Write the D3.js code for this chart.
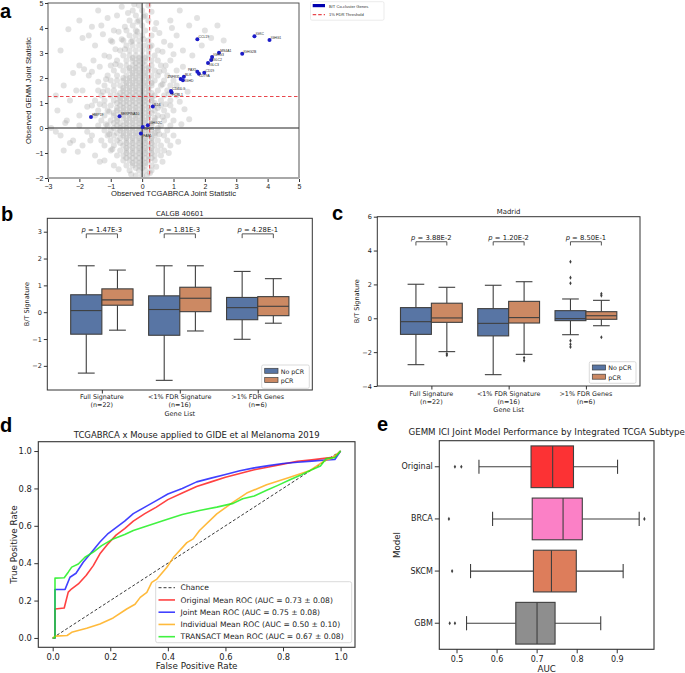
<!DOCTYPE html>
<html><head><meta charset="utf-8">
<script src="https://cdn.jsdelivr.net/npm/d3@7"></script>
<style>body{margin:0;background:#fff}svg{display:block}</style>
</head><body>
<svg id="chart" width="685" height="673"></svg>
<script>
// ================= DATA =================
// ---- Panel a: joint statistics ----
const geneNames = ["CCL19","IGKC","IGHG1","IGHG2B","MS4A1","IGHG3","IGLC2","IGLC3","CD19","PAX5","CD79A","BLK","ZNF831","IGHD","CD40LG","FCRL1","IL16","HMP19","SERPINA10","IGHG2C","IGHV1","FAB1"];
const geneTcga = [1.76,3.58,4.06,3.19,2.45,2.23,2.20,2.10,1.98,1.76,1.81,1.33,1.23,1.30,0.92,0.94,0.34,-1.63,-0.72,0.18,0.02,-0.04];
const geneGemm = [3.55,3.67,3.52,2.97,3.01,2.84,2.72,2.60,2.21,2.25,2.17,2.05,1.96,1.91,1.48,1.42,0.86,0.44,0.47,0.11,0.04,-0.22];
const fdrTcga = 0.24, fdrGemm = 1.26;
const aTicksX = [-3,-2,-1,0,1,2,3,4,5];
const aTicksY = [-2,-1,0,1,2,3,4,5];
const backgroundGenes = [
[-0.2,-1.9],[0,-1.9],[0.15,-1.9],
[-0.4,-1.7],[-0.1,-1.7],[0.1,-1.7],[0.3,-1.7],
[-0.9,-1.5],[-0.5,-1.5],[-0.3,-1.5],[-0.1,-1.5],[0.1,-1.5],[0.3,-1.5],
[-1.2,-1.3],[-0.6,-1.3],[-0.4,-1.3],[-0.2,-1.3],[0,-1.3],[0.2,-1.3],[0.4,-1.3],
[-1.5,-1.1],[-0.8,-1.1],[-0.6,-1.1],[-0.4,-1.1],[-0.2,-1.1],[0,-1.1],[0.2,-1.1],[0.4,-1.1],[0.6,-1.1],
[-2.5,-0.9],[-1,-0.9],[-0.7,-0.9],[-0.5,-0.9],[-0.3,-0.9],[-0.1,-0.9],[0.1,-0.9],[0.3,-0.9],[0.5,-0.9],[0.7,-0.9],
[-1.9,-0.7],[-1.2,-0.7],[-0.9,-0.7],[-0.6,-0.7],[-0.4,-0.7],[-0.2,-0.7],[0,-0.7],[0.2,-0.7],[0.4,-0.7],[0.6,-0.7],[0.9,-0.7],
[-2.2,-0.5],[-1.3,-0.5],[-1,-0.5],[-0.8,-0.5],[-0.5,-0.5],[-0.3,-0.5],[-0.1,-0.5],[0.1,-0.5],[0.3,-0.5],[0.5,-0.5],[0.8,-0.5],
[-2.6,-0.3],[-1.6,-0.3],[-1.1,-0.3],[-0.9,-0.3],[-0.6,-0.3],[-0.4,-0.3],[-0.2,-0.3],[0,-0.3],[0.2,-0.3],[0.4,-0.3],[0.7,-0.3],[1,-0.3],
[-1.2,-0.1],[-1,-0.1],[-0.7,-0.1],[-0.5,-0.1],[-0.3,-0.1],[-0.1,-0.1],[0.1,-0.1],[0.3,-0.1],[0.5,-0.1],[0.8,-0.1],
[-2,0.1],[-1.4,0.1],[-1.1,0.1],[-0.8,0.1],[-0.6,0.1],[-0.4,0.1],[-0.2,0.1],[0,0.1],[0.3,0.1],[0.6,0.1],[0.9,0.1],
[-2.4,0.3],[-1.3,0.3],[-1,0.3],[-0.8,0.3],[-0.5,0.3],[-0.3,0.3],[-0.1,0.3],[0.1,0.3],[0.4,0.3],[0.7,0.3],[1,0.3],
[-2,0.5],[-1.5,0.5],[-1.2,0.5],[-0.9,0.5],[-0.6,0.5],[-0.4,0.5],[-0.2,0.5],[0,0.5],[0.2,0.5],[0.5,0.5],[0.8,0.5],
[-2.7,0.7],[-1.4,0.7],[-1.1,0.7],[-0.8,0.7],[-0.6,0.7],[-0.4,0.7],[-0.2,0.7],[0,0.7],[0.2,0.7],[0.4,0.7],[0.7,0.7],[1,0.7],
[-1.6,0.9],[-1.2,0.9],[-1,0.9],[-0.7,0.9],[-0.5,0.9],[-0.3,0.9],[-0.1,0.9],[0.1,0.9],[0.4,0.9],[0.6,0.9],[0.9,0.9],
[-2.3,1.1],[-1.5,1.1],[-1.2,1.1],[-0.9,1.1],[-0.7,1.1],[-0.5,1.1],[-0.3,1.1],[-0.1,1.1],[0.1,1.1],[0.3,1.1],[0.6,1.1],[0.9,1.1],
[-1.3,1.3],[-1,1.3],[-0.8,1.3],[-0.6,1.3],[-0.4,1.3],[-0.2,1.3],[0,1.3],[0.2,1.3],[0.4,1.3],[0.7,1.3],[1.1,1.3],
[-1.9,1.5],[-1.4,1.5],[-1.1,1.5],[-0.9,1.5],[-0.6,1.5],[-0.4,1.5],[-0.2,1.5],[0,1.5],[0.2,1.5],[0.5,1.5],[0.8,1.5],
[-2.5,1.7],[-1.2,1.7],[-0.9,1.7],[-0.7,1.7],[-0.5,1.7],[-0.3,1.7],[-0.1,1.7],[0.1,1.7],[0.3,1.7],[0.6,1.7],[0.9,1.7],
[-1,1.9],[-0.8,1.9],[-0.6,1.9],[-0.4,1.9],[-0.2,1.9],[0,1.9],[0.2,1.9],[0.4,1.9],[0.7,1.9],[1,1.9],
[-1.7,2.1],[-1.1,2.1],[-0.8,2.1],[-0.5,2.1],[-0.3,2.1],[-0.1,2.1],[0.1,2.1],[0.3,2.1],[0.5,2.1],[0.8,2.1],
[-0.9,2.3],[-0.6,2.3],[-0.4,2.3],[-0.2,2.3],[0,2.3],[0.2,2.3],[0.4,2.3],[0.7,2.3],[1.1,2.3],
[-2,2.5],[-1,2.5],[-0.7,2.5],[-0.5,2.5],[-0.3,2.5],[-0.1,2.5],[0.1,2.5],[0.3,2.5],[0.6,2.5],
[-0.8,2.7],[-0.5,2.7],[-0.3,2.7],[-0.1,2.7],[0.1,2.7],[0.3,2.7],[0.5,2.7],[0.9,2.7],
[-1.2,2.9],[-0.6,2.9],[-0.4,2.9],[-0.2,2.9],[0,2.9],[0.2,2.9],[0.4,2.9],
[-2.6,3.1],[-0.7,3.1],[-0.4,3.1],[-0.2,3.1],[0,3.1],[0.2,3.1],[0.5,3.1],[1.3,3.1],
[-1.5,3.3],[-0.5,3.3],[-0.3,3.3],[-0.1,3.3],[0.1,3.3],[0.3,3.3],[0.9,3.3],
[-1,3.5],[-0.6,3.5],[-0.3,3.5],[-0.1,3.5],[0.2,3.5],[2.6,3.5],
[-1.7,3.7],[-0.4,3.7],[-0.2,3.7],[0,3.7],[0.3,3.7],[1.1,3.7],
[-0.9,3.9],[-0.5,3.9],[-0.2,3.9],[0.1,3.9],[2,3.9],
[-1.3,4.1],[-0.3,4.1],[0,4.1],[1.5,4.1],[2.4,4.1],
[-2,4.3],[-0.4,4.3],[-0.1,4.3],[0.2,4.3],[0.9,4.3],
[-0.8,4.5],[-0.2,4.5],[0.1,4.5],
[-1.4,4.7],[-0.3,4.7],[0,4.7],[1.2,4.7],
[-0.1,4.9],[0.2,4.9],
[-0.2,-1.6],[0,-1.6],
[-0.3,-1.4],[-0.1,-1.4],[0.1,-1.4],
[-0.5,-1.2],[-0.3,-1.2],[-0.1,-1.2],[0.1,-1.2],[0.3,-1.2],
[-0.5,-1],[-0.3,-1],[-0.1,-1],[0.1,-1],[0.3,-1],
[-0.5,-0.8],[-0.3,-0.8],[-0.1,-0.8],[0.1,-0.8],[0.3,-0.8],
[-0.7,-0.6],[-0.5,-0.6],[-0.3,-0.6],[-0.1,-0.6],[0.1,-0.6],[0.3,-0.6],
[-0.7,-0.4],[-0.5,-0.4],[-0.3,-0.4],[-0.1,-0.4],[0.1,-0.4],[0.3,-0.4],
[-0.8,-0.2],[-0.6,-0.2],[-0.4,-0.2],[-0.2,-0.2],[0,-0.2],[0.2,-0.2],[0.4,-0.2],
[-0.9,0],[-0.7,0],[-0.5,0],[-0.3,0],[-0.1,0],[0.1,0],[0.5,0],
[-0.9,0.2],[-0.7,0.2],[-0.5,0.2],[-0.3,0.2],[-0.1,0.2],[0.1,0.2],[0.3,0.2],
[-0.8,0.4],[-0.6,0.4],[-0.4,0.4],[-0.2,0.4],[0,0.4],[0.2,0.4],[0.4,0.4],
[-0.9,0.6],[-0.7,0.6],[-0.5,0.6],[-0.3,0.6],[-0.1,0.6],[0.1,0.6],[0.3,0.6],
[-0.8,0.8],[-0.6,0.8],[-0.4,0.8],[-0.2,0.8],[0,0.8],[0.2,0.8],[0.5,0.8],
[-0.8,1],[-0.6,1],[-0.4,1],[-0.2,1],[0,1],[0.2,1],[0.4,1],
[-0.7,1.2],[-0.5,1.2],[-0.3,1.2],[-0.1,1.2],[0.1,1.2],[0.3,1.2],
[-0.7,1.4],[-0.5,1.4],[-0.3,1.4],[-0.1,1.4],[0.1,1.4],[0.3,1.4],
[-0.6,1.6],[-0.4,1.6],[-0.2,1.6],[0,1.6],[0.2,1.6],
[-0.5,1.8],[-0.3,1.8],[-0.1,1.8],[0.1,1.8],[0.3,1.8],
[-0.6,2],[-0.4,2],[-0.2,2],[0,2],[0.2,2],
[-0.3,2.2],[-0.1,2.2],[0.1,2.2],
[-0.4,2.4],[-0.2,2.4],[0,2.4],[0.2,2.4],
[-0.2,2.6],[0,2.6],
[-0.3,2.8],[-0.1,2.8],[0.1,2.8],
[-0.75,3.85],[-0.55,4.05],[-0.15,4.25],[0.05,4.45],[-0.45,4.6],[-0.65,4.85],[0.3,4.65],[-0.25,4.95],[0.45,4.2],[-1.1,4.4],
[-0.95,3.45],[-1.25,3.75],[0.55,3.8],[0.7,3.45],[0.4,3.95],[-0.85,3.15],[-1.05,2.85],[0.65,3.05],[0.75,2.5],[-1.35,2.45],
[-1.55,2.7],[1.0,2.95],[-1.9,3.6],[-2.2,2.2],[-2.75,1.3],[-2.45,0.2],[-1.75,-0.15],[-2.05,-0.95],[-1.35,-1.35],[-0.75,-1.65],
[0.45,-1.55],[0.65,-1.35],[0.85,-1.0],[1.15,-0.55],[1.25,0.15],[1.35,0.75],[1.2,1.05],[1.45,1.45],[1.1,1.7],[1.3,2.45],
[1.6,2.9],[1.9,3.3],[2.2,3.6],[1.75,4.4],[0.95,4.0],[-1.6,4.05],[-2.35,3.95],[-1.85,2.35],[-2.1,1.5],[-1.75,0.85],
[-2.9,0.0],[-1.65,-0.5],[-2.3,-0.6],[-2.75,-0.15],[-1.4,1.85],[-1.6,2.25],[1.5,0.35],[-0.35,-1.85],[0.25,-1.8],
[-0.65,3.55],[-0.35,3.45],[0.05,3.55],[-0.15,3.85],[0.25,3.25],[-0.55,3.15],[-0.85,2.55],[-1.15,1.95],[-1.25,1.45],[-1.35,0.95],
[-1.05,0.65],[-1.15,0.15],[-1.05,-0.25],[-0.95,-0.85],[0.55,-0.25],[0.65,0.45],[0.75,0.95],[0.85,1.35],[0.65,1.75],[0.55,2.25]
];

// ---- Panels b & c: B/T signature by response ----
const geneLists = ["Full Signature","<1% FDR Signature",">1% FDR Genes"];
const geneListN = ["(n=22)","(n=16)","(n=6)"];
const responseGroups = ["No pCR","pCR"];
// [lower whisker, Q1, median, Q3, upper whisker]
const calgbNoPCR = [[-2.27,-0.82,0.06,0.65,1.73],[-2.54,-0.86,0.10,0.61,1.73],[-1.01,-0.28,0.17,0.55,1.52]];
const calgbPCR   = [[-0.67,0.26,0.46,0.87,1.57],[-0.70,0.02,0.52,0.93,1.73],[-0.41,-0.13,0.22,0.58,1.25]];
const calgbP = ["1.47E-3","1.81E-3","4.28E-1"];
const madridNoPCR = [[-2.74,-0.95,-0.20,0.63,2.01],[-3.33,-1.04,-0.30,0.57,1.95],[-0.97,-0.14,-0.02,0.45,1.14]];
const madridPCR   = [[-1.97,-0.24,0.02,0.89,1.83],[-2.13,-0.28,0.04,1.00,2.16],[-0.44,-0.06,0.15,0.39,1.06]];
const madridNoPCRFliers = [[],[],[3.34,2.40,2.07,-1.32,-1.54,-1.69]];
const madridPCRFliers   = [[-2.10,-2.18],[-2.33,-2.50],[1.45,1.34,-1.12]];
const madridP = ["3.88E-2","1.20E-2","8.50E-1"];

// ---- Panel d: ROC curves [FPR, TPR] ----
const rocChance = [[0,0],[1,1]];
const rocOriginal = [[0,0],[0.008,0],[0.008,0.155],[0.04,0.16],[0.054,0.245],[0.066,0.263],[0.089,0.289],[0.116,0.334],[0.141,0.387],[0.164,0.45],[0.19,0.50],[0.22,0.55],[0.25,0.585],[0.28,0.625],[0.32,0.665],[0.36,0.70],[0.40,0.74],[0.45,0.775],[0.50,0.81],[0.55,0.835],[0.60,0.86],[0.65,0.88],[0.70,0.90],[0.75,0.915],[0.80,0.93],[0.85,0.945],[0.90,0.953],[0.95,0.962],[0.98,0.968],[1.0,1.0]];
const rocJoint = [[0,0],[0.008,0],[0.008,0.259],[0.043,0.26],[0.06,0.325],[0.081,0.346],[0.106,0.405],[0.135,0.459],[0.164,0.513],[0.19,0.555],[0.22,0.59],[0.25,0.625],[0.28,0.665],[0.32,0.70],[0.36,0.735],[0.40,0.77],[0.45,0.80],[0.50,0.835],[0.55,0.855],[0.60,0.875],[0.65,0.895],[0.70,0.91],[0.75,0.922],[0.80,0.933],[0.85,0.94],[0.90,0.946],[0.95,0.952],[0.98,0.955],[1.0,1.0]];
const rocIndividual = [[0,0],[0.01,0.01],[0.05,0.013],[0.066,0.03],[0.118,0.052],[0.164,0.075],[0.21,0.107],[0.257,0.155],[0.286,0.18],[0.304,0.217],[0.327,0.244],[0.344,0.297],[0.362,0.315],[0.396,0.377],[0.419,0.43],[0.466,0.51],[0.488,0.53],[0.51,0.575],[0.57,0.664],[0.627,0.727],[0.674,0.775],[0.743,0.82],[0.824,0.86],[0.894,0.896],[0.946,0.95],[0.97,0.962],[1.0,1.0]];
const rocTransact = [[0,0],[0.008,0],[0.008,0.32],[0.04,0.322],[0.054,0.352],[0.066,0.379],[0.089,0.396],[0.112,0.432],[0.141,0.459],[0.17,0.494],[0.21,0.53],[0.25,0.553],[0.28,0.575],[0.33,0.60],[0.396,0.634],[0.45,0.66],[0.51,0.682],[0.57,0.70],[0.627,0.72],[0.66,0.745],[0.70,0.76],[0.743,0.79],[0.78,0.815],[0.824,0.846],[0.86,0.87],[0.894,0.896],[0.93,0.92],[0.95,0.96],[0.98,0.965],[1.0,1.0]];
const rocLabels = ["Chance","Original Mean ROC (AUC = 0.73 \u00b1 0.08)","Joint Mean ROC (AUC = 0.75 \u00b1 0.08)","Individual Mean ROC (AUC = 0.50 \u00b1 0.10)","TRANSACT Mean ROC (AUC = 0.67 \u00b1 0.08)"];
const dTicks = [0,0.2,0.4,0.6,0.8,1.0];

// ---- Panel e: AUC by subtype ----
const subtypes = ["Original","BRCA","SKCM","GBM"];
const subtypeStats = [[0.556,0.686,0.740,0.792,0.902],[0.590,0.689,0.766,0.814,0.956],[0.535,0.692,0.737,0.799,0.916],[0.525,0.648,0.701,0.746,0.860]];
const subtypeFliers = [[0.496,0.512],[0.481,0.969],[0.489],[0.483,0.496]];
const eTicks = [0.5,0.6,0.7,0.8,0.9];

// ================= DRAWING =================
const svg = d3.select("#chart");
const DV = "DejaVu Sans, sans-serif";
const LS = "Liberation Sans, Arial, sans-serif";
const EDGE = "#3f3f3f";
const intFmt = d3.format("d");

function panelLabel(t, x, y) {
  svg.append("text").attr("x", x).attr("y", y).attr("font-family", LS)
    .attr("font-weight", "bold").attr("font-size", 20).attr("fill", "#000").text(t);
}
function styleAxis(g, font, size, color) {
  g.select(".domain").remove();
  g.selectAll(".tick line").attr("stroke", color);
  g.selectAll(".tick text").attr("font-family", font).attr("font-size", size).attr("fill", "#222");
}

// ---------- Panel a ----------
(function(){
  const L = 48, R = 299, T = 3, B = 178;
  const x = d3.scaleLinear().domain([-3,5]).range([L,R]);
  const y = d3.scaleLinear().domain([-2,5]).range([B,T]);
  const g = svg.append("g");
  const clip = svg.append("clipPath").attr("id","clipA");
  clip.append("rect").attr("x",L).attr("y",T).attr("width",R-L).attr("height",B-T);
  const pts = g.append("g").attr("clip-path","url(#clipA)");
  pts.selectAll("circle.bg").data(backgroundGenes).join("circle").attr("class","bg")
    .attr("cx", d=>x(d[0])).attr("cy", d=>y(d[1])).attr("r", 3)
    .attr("fill", "#a8a8a8").attr("fill-opacity", 0.33);
  // zero lines
  g.append("line").attr("x1",x(0)).attr("x2",x(0)).attr("y1",T).attr("y2",B).attr("stroke","#222").attr("stroke-width",1);
  g.append("line").attr("x1",L).attr("x2",R).attr("y1",y(0)).attr("y2",y(0)).attr("stroke","#222").attr("stroke-width",1);
  // FDR thresholds
  g.append("line").attr("x1",x(fdrTcga)).attr("x2",x(fdrTcga)).attr("y1",T).attr("y2",B)
    .attr("stroke","#e8474d").attr("stroke-width",1).attr("stroke-dasharray","3.5,2.5");
  g.append("line").attr("x1",L).attr("x2",R).attr("y1",y(fdrGemm)).attr("y2",y(fdrGemm))
    .attr("stroke","#e8474d").attr("stroke-width",1).attr("stroke-dasharray","3.5,2.5");
  // genes
  const genes = geneNames.map((n,i)=>({n, x:geneTcga[i], y:geneGemm[i]}));
  g.selectAll("circle.gene").data(genes).join("circle").attr("class","gene")
    .attr("cx", d=>x(d.x)).attr("cy", d=>y(d.y)).attr("r", 2).attr("fill", "#1c1cc8");
  const labelOffset = {PAX5:[-1,-0.5,"end"], ZNF831:[-1,-1,"end"], IGLC2:[1,1.2], IGLC3:[1,3], CD79A:[0,3.6], IGHD:[2,2.2], FCRL1:[0.5,3.6], IGHV1:[1,3], FAB1:[2.5,3]};
  g.selectAll("text.gene").data(genes).join("text").attr("class","gene")
    .attr("x", d=>x(d.x) + (labelOffset[d.n] ? labelOffset[d.n][0] : 1.2))
    .attr("y", d=>y(d.y) + (labelOffset[d.n] ? labelOffset[d.n][1] : -1))
    .attr("text-anchor", d=> labelOffset[d.n] && labelOffset[d.n][2] ? "end" : "start")
    .attr("font-family", LS).attr("font-size", 3.4).attr("fill", "#222").text(d=>d.n);
  // frame
  g.append("rect").attr("x",L).attr("y",T).attr("width",R-L).attr("height",B-T).attr("fill","none").attr("stroke","#444").attr("stroke-width",0.9);
  g.append("line").attr("x1",L).attr("x2",R).attr("y1",B).attr("y2",B).attr("stroke","#a8a8a8").attr("stroke-width",2);
  const xa = g.append("g").attr("transform",`translate(0,${B+1})`).call(d3.axisBottom(x).tickValues(aTicksX).tickSize(3).tickPadding(2).tickFormat(intFmt));
  styleAxis(xa, LS, 7, "#333");
  const ya = g.append("g").attr("transform",`translate(${L},0)`).call(d3.axisLeft(y).tickValues(aTicksY).tickSize(3).tickPadding(1.5).tickFormat(intFmt));
  styleAxis(ya, LS, 7, "#333");
  g.append("text").attr("x",(L+R)/2).attr("y",196).attr("text-anchor","middle").attr("font-family",LS).attr("font-size",7.7).attr("fill","#222").text("Observed TCGABRCA Joint Statistic");
  g.append("text").attr("transform",`translate(31,${(T+B)/2}) rotate(-90)`).attr("text-anchor","middle").attr("font-family",LS).attr("font-size",7.7).attr("fill","#222").text("Observed GEMM Joint Statistic");
  // legend
  const lg = g.append("g");
  lg.append("rect").attr("x",310.5).attr("y",1.7).attr("width",73.5).attr("height",18.5).attr("rx",1.5).attr("fill","#fff").attr("stroke","#ddd").attr("stroke-width",0.6);
  lg.append("rect").attr("x",312.7).attr("y",4).attr("width",12.3).attr("height",3.2).attr("fill","#0000b0");
  lg.append("line").attr("x1",312.7).attr("x2",325).attr("y1",14.6).attr("y2",14.6).attr("stroke","#e8474d").attr("stroke-width",1.2).attr("stroke-dasharray","3.5,2");
  lg.append("text").attr("x",329).attr("y",7.6).attr("font-family",LS).attr("font-size",4.1).attr("fill","#333").text("B/T Co-cluster Genes");
  lg.append("text").attr("x",329).attr("y",16.2).attr("font-family",LS).attr("font-size",4.1).attr("fill","#333").text("1% FDR Threshold");
})();
panelLabel("a", 0, 17.5);

// ---------- Panels b & c ----------
function boxPanel(cfg) {
  const {L,R,T,B,ydom,yticks,title,titleY,noStats,pStats,noFliers,pFliers,pvals,brTop,brLeg,line1,line2,geneY,legendBox} = cfg;
  const x = d3.scaleLinear().domain([-0.7,2.7]).range([L,R]);
  const y = d3.scaleLinear().domain(ydom).range([B,T]);
  const g = svg.append("g");
  const bw = x(0.4) - x(0);
  const cap = bw*0.27;
  function drawBoxes(stats, fliers, off, fill) {
    stats.forEach((s,i)=>{
      const cx = x(i+off);
      const [lo,q1,md,q3,hi] = s;
      g.append("line").attr("x1",cx).attr("x2",cx).attr("y1",y(q3)).attr("y2",y(hi)).attr("stroke",EDGE).attr("stroke-width",1.1);
      g.append("line").attr("x1",cx).attr("x2",cx).attr("y1",y(q1)).attr("y2",y(lo)).attr("stroke",EDGE).attr("stroke-width",1.1);
      g.append("line").attr("x1",cx-cap).attr("x2",cx+cap).attr("y1",y(hi)).attr("y2",y(hi)).attr("stroke",EDGE).attr("stroke-width",1.1);
      g.append("line").attr("x1",cx-cap).attr("x2",cx+cap).attr("y1",y(lo)).attr("y2",y(lo)).attr("stroke",EDGE).attr("stroke-width",1.1);
      g.append("rect").attr("x",cx-bw/2).attr("y",y(q3)).attr("width",bw).attr("height",y(q1)-y(q3)).attr("fill",fill).attr("stroke",EDGE).attr("stroke-width",1.1);
      g.append("line").attr("x1",cx-bw/2).attr("x2",cx+bw/2).attr("y1",y(md)).attr("y2",y(md)).attr("stroke",EDGE).attr("stroke-width",1.1);
      if (fliers) (fliers[i]||[]).forEach(v=>{
        g.append("path").attr("d", d3.symbol(d3.symbolDiamond, 5)()).attr("transform",`translate(${cx},${y(v)})`).attr("fill",EDGE);
      });
    });
  }
  drawBoxes(noStats, noFliers, -0.2, "#5875a4");
  drawBoxes(pStats, pFliers, 0.2, "#cc8963");
  pvals.forEach((p,i)=>{
    const x1 = x(i-0.2), x2 = x(i+0.2);
    g.append("path").attr("d",`M${x1},${y(brLeg)}V${y(brTop)}H${x2}V${y(brLeg)}`).attr("fill","none").attr("stroke","#555").attr("stroke-width",1);
    const t = g.append("text").attr("x",(x1+x2)/2).attr("y",y(brTop)-2.2).attr("text-anchor","middle").attr("font-family",DV).attr("font-size",6.8).attr("fill","#222");
    t.append("tspan").attr("font-style","italic").text("p");
    t.append("tspan").text(" = " + p);
  });
  g.append("rect").attr("x",L).attr("y",T).attr("width",R-L).attr("height",B-T).attr("fill","none").attr("stroke","#333").attr("stroke-width",1);
  const ya = g.append("g").attr("transform",`translate(${L},0)`).call(d3.axisLeft(y).tickValues(yticks).tickSize(3.5).tickPadding(2).tickFormat(intFmt));
  styleAxis(ya, DV, 6.5, "#333");
  const xa = g.append("g").attr("transform",`translate(0,${B})`).call(d3.axisBottom(x).tickValues([0,1,2]).tickSize(3.5).tickFormat(""));
  styleAxis(xa, DV, 6.5, "#333");
  geneLists.forEach((n,i)=>{
    g.append("text").attr("x",x(i)).attr("y",line1).attr("text-anchor","middle").attr("font-family",DV).attr("font-size",6.4).attr("fill","#222").text(n);
    g.append("text").attr("x",x(i)).attr("y",line2).attr("text-anchor","middle").attr("font-family",DV).attr("font-size",6.4).attr("fill","#222").text(geneListN[i]);
  });
  g.append("text").attr("x",(L+R)/2).attr("y",geneY).attr("text-anchor","middle").attr("font-family",DV).attr("font-size",6.5).attr("fill","#222").text("Gene List");
  g.append("text").attr("x",(L+R)/2).attr("y",titleY).attr("text-anchor","middle").attr("font-family",DV).attr("font-size",6.9).attr("fill","#222").text(title);
  g.append("text").attr("transform",`translate(${L-18.5},${(T+B)/2}) rotate(-90)`).attr("text-anchor","middle").attr("font-family",DV).attr("font-size",6.5).attr("fill","#222").text("B/T Signature");
  const [lx,ly,lw,lh] = legendBox;
  g.append("rect").attr("x",lx).attr("y",ly).attr("width",lw).attr("height",lh).attr("rx",1.5).attr("fill","#fff").attr("fill-opacity",0.85).attr("stroke","#ccc").attr("stroke-width",0.7);
  [["#5875a4",0],["#cc8963",1]].forEach(([c,k])=>{
    g.append("rect").attr("x",lx+3).attr("y",ly+3.3+k*9.2).attr("width",13.3).attr("height",5).attr("fill",c).attr("stroke",EDGE).attr("stroke-width",0.7);
    g.append("text").attr("x",lx+19).attr("y",ly+8.6+k*9.2).attr("font-family",DV).attr("font-size",6.3).attr("fill","#222").text(responseGroups[k]);
  });
}
boxPanel({L:47.3,R:312.3,T:218.3,B:390,ydom:[-2.9,3.5],yticks:[-2,-1,0,1,2,3],title:"CALGB 40601",titleY:216,
  noStats:calgbNoPCR,pStats:calgbPCR,noFliers:null,pFliers:null,pvals:calgbP,brTop:2.92,brLeg:2.76,
  line1:398.5,line2:406.5,geneY:416,legendBox:[261.7,365,47.6,23.3]});
boxPanel({L:377.3,R:640,T:216.7,B:386,ydom:[-4,6],yticks:[-4,-2,0,2,4,6],title:"Madrid",titleY:214,
  noStats:madridNoPCR,pStats:madridPCR,noFliers:madridNoPCRFliers,pFliers:madridPCRFliers,pvals:madridP,brTop:4.52,brLeg:4.3,
  line1:396,line2:403.5,geneY:412,legendBox:[589.3,361.7,46.7,21.6]});
panelLabel("b", 1, 221);
panelLabel("c", 332, 219.5);

// ---------- Panel d ----------
(function(){
  const L = 38.3, R = 355, T = 441.7, B = 647.3;
  const x = d3.scaleLinear().domain([-0.05,1.05]).range([L,R]);
  const y = d3.scaleLinear().domain([-0.05,1.05]).range([B,T]);
  const g = svg.append("g");
  const line = d3.line().x(d=>x(d[0])).y(d=>y(d[1]));
  g.append("path").attr("d",line(rocChance)).attr("fill","none").attr("stroke","#222").attr("stroke-width",0.9).attr("stroke-dasharray","3,2");
  const series = [[rocOriginal,"#ff2020"],[rocJoint,"#2020ff"],[rocIndividual,"#ffae1a"],[rocTransact,"#20f020"]];
  series.forEach(([s,c])=>{
    g.append("path").attr("d",line(s)).attr("fill","none").attr("stroke",c).attr("stroke-opacity",0.85).attr("stroke-width",1.6).attr("stroke-linejoin","round");
  });
  g.append("rect").attr("x",L).attr("y",T).attr("width",R-L).attr("height",B-T).attr("fill","none").attr("stroke","#333").attr("stroke-width",1.1);
  const xa = g.append("g").attr("transform",`translate(0,${B})`).call(d3.axisBottom(x).tickValues(dTicks).tickSize(4).tickPadding(3).tickFormat(d3.format(".1f")));
  styleAxis(xa, DV, 8.3, "#333");
  const ya = g.append("g").attr("transform",`translate(${L},0)`).call(d3.axisLeft(y).tickValues(dTicks).tickSize(4).tickPadding(2.5).tickFormat(d3.format(".1f")));
  styleAxis(ya, DV, 8.3, "#333");
  g.append("text").attr("x",(L+R)/2).attr("y",437.5).attr("text-anchor","middle").attr("font-family",DV).attr("font-size",8.5).attr("fill","#222").text("TCGABRCA x Mouse applied to GIDE et al Melanoma 2019");
  g.append("text").attr("x",(L+R)/2).attr("y",669).attr("text-anchor","middle").attr("font-family",DV).attr("font-size",8.8).attr("fill","#222").text("False Positive Rate");
  g.append("text").attr("transform",`translate(16.5,${(T+B)/2}) rotate(-90)`).attr("text-anchor","middle").attr("font-family",DV).attr("font-size",8.8).attr("fill","#222").text("True Positive Rate");
  g.append("rect").attr("x",155.7).attr("y",581.7).attr("width",196).attr("height",61).attr("rx",2).attr("fill","#fff").attr("fill-opacity",0.85).attr("stroke","#d0d0d0").attr("stroke-width",0.8);
  const lcols = ["#222","#ff2020","#2020ff","#ffae1a","#20f020"];
  rocLabels.forEach((t,i)=>{
    const yy = 587.7 + i*12.25;
    const ln = g.append("line").attr("x1",158.5).attr("x2",175).attr("y1",yy).attr("y2",yy).attr("stroke",lcols[i]);
    if (i===0) ln.attr("stroke-width",0.9).attr("stroke-dasharray","3,2");
    else ln.attr("stroke-width",1.6).attr("stroke-opacity",0.85);
    g.append("text").attr("x",180.5).attr("y",yy+2.7).attr("font-family",DV).attr("font-size",7.6).attr("fill","#222").text(t);
  });
})();
panelLabel("d", 0, 431.5);

// ---------- Panel e ----------
(function(){
  const L = 439.3, R = 654, T = 440.7, B = 649.3;
  const x = d3.scaleLinear().domain([0.457,0.993]).range([L,R]);
  const y = d3.scaleBand().domain(subtypes).range([T,B]).padding(0);
  const g = svg.append("g");
  const colors = ["#fc3234","#fb80c6","#dd7d5b","#8e8e8e"];
  const bh = y.bandwidth()*0.8, cap = bh*0.17;
  subtypes.forEach((s,i)=>{
    const cy = y(s) + y.bandwidth()/2;
    const [lo,q1,md,q3,hi] = subtypeStats[i];
    g.append("line").attr("x1",x(lo)).attr("x2",x(q1)).attr("y1",cy).attr("y2",cy).attr("stroke",EDGE).attr("stroke-width",1.1);
    g.append("line").attr("x1",x(q3)).attr("x2",x(hi)).attr("y1",cy).attr("y2",cy).attr("stroke",EDGE).attr("stroke-width",1.1);
    g.append("line").attr("x1",x(lo)).attr("x2",x(lo)).attr("y1",cy-cap).attr("y2",cy+cap).attr("stroke",EDGE).attr("stroke-width",1.1);
    g.append("line").attr("x1",x(hi)).attr("x2",x(hi)).attr("y1",cy-cap).attr("y2",cy+cap).attr("stroke",EDGE).attr("stroke-width",1.1);
    g.append("rect").attr("x",x(q1)).attr("y",cy-bh/2).attr("width",x(q3)-x(q1)).attr("height",bh).attr("fill",colors[i]).attr("stroke",EDGE).attr("stroke-width",1.1);
    g.append("line").attr("x1",x(md)).attr("x2",x(md)).attr("y1",cy-bh/2).attr("y2",cy+bh/2).attr("stroke",EDGE).attr("stroke-width",1.1);
    subtypeFliers[i].forEach(v=>{
      g.append("path").attr("d", d3.symbol(d3.symbolDiamond, 5)()).attr("transform",`translate(${x(v)},${cy})`).attr("fill",EDGE);
    });
  });
  g.append("rect").attr("x",L).attr("y",T).attr("width",R-L).attr("height",B-T).attr("fill","none").attr("stroke","#333").attr("stroke-width",1.1);
  const xa = g.append("g").attr("transform",`translate(0,${B})`).call(d3.axisBottom(x).tickValues(eTicks).tickSize(4).tickPadding(3).tickFormat(d3.format(".1f")));
  styleAxis(xa, DV, 8, "#333");
  const ya = g.append("g").attr("transform",`translate(${L},0)`).call(d3.axisLeft(y).tickSize(4.5).tickPadding(2));
  styleAxis(ya, DV, 8, "#333");
  g.append("text").attr("x",(L+R)/2).attr("y",435).attr("text-anchor","middle").attr("font-family",DV).attr("font-size",8.7).attr("fill","#222").text("GEMM ICI Joint Model Performance by Integrated TCGA Subtype");
  g.append("text").attr("x",(L+R)/2).attr("y",672).attr("text-anchor","middle").attr("font-family",DV).attr("font-size",8.7).attr("fill","#222").text("AUC");
  g.append("text").attr("transform",`translate(399.5,${(T+B)/2}) rotate(-90)`).attr("text-anchor","middle").attr("font-family",DV).attr("font-size",8.7).attr("fill","#222").text("Model");
})();
panelLabel("e", 377, 430.7);
</script>
</body></html>
